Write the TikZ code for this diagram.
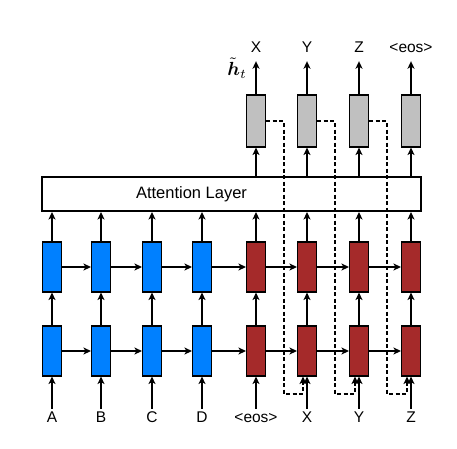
\documentclass[tikz,border=0pt]{standalone}
\usepackage{fontspec}
\setmainfont{Liberation Sans}
\usepackage{bm}
\usepackage{graphicx}
\usetikzlibrary{arrows.meta,calc}
\definecolor{encblue}{RGB}{0,128,255}
\definecolor{decred}{RGB}{165,42,42}
\definecolor{outgray}{RGB}{192,192,192}
\begin{document}
\begin{tikzpicture}[x=1pt,y=-1pt,
  cell/.style={draw=black, line width=1.1pt, minimum width=19pt, minimum height=50pt, inner sep=0pt},
  enc/.style={cell, fill=encblue},
  dec/.style={cell, fill=decred},
  outc/.style={cell, fill=outgray, minimum height=52pt},
  lbl/.style={font=\fontsize{15.5}{17}\selectfont, inner sep=2.5pt, text height=11pt, text depth=0pt},
  tip/.style={-{Stealth[length=7.5pt,width=7pt,inset=2pt]}},
  conn/.style={tip, line width=2.1pt},
  inarr/.style={tip, line width=1.4pt},
  outarr/.style={tip, line width=1.6pt, shorten >=6pt},
  feed/.style={tip, line width=2.1pt, dash pattern=on 4pt off 2.5pt}
]
\useasboundingbox (0,0) rectangle (457,448);

% attention layer
\node[draw=black, line width=2pt, minimum width=379pt, minimum height=34pt, inner sep=0pt,
      label={[xshift=-40pt, font=\fontsize{16.5}{18}\selectfont]center:Attention Layer}] (att) at (231.5,194) {};

% cells
\foreach \i/\x in {1/52,2/101,3/152,4/202}{
  \node[enc] (b\i) at (\x,351) {};
  \node[enc] (t\i) at (\x,267) {};
}
\foreach \i/\x in {5/256,6/307,7/359,8/411}{
  \node[dec] (b\i) at (\x,351) {};
  \node[dec] (t\i) at (\x,267) {};
}
\foreach \i/\x in {5/256,6/307,7/359,8/411}{
  \node[outc] (o\i) at (\x,121) {};
}

% input labels
\foreach \i/\x/\t in {1/52/A,2/101/B,3/152/C,4/202/D,5/256/{<eos>},6/307/X,7/359/Y,8/411/Z}{
  \node[lbl] (in\i) at (\x,417) {\t};
  \draw[inarr] (in\i.north) -- (b\i.south);
  \draw[conn] (b\i.north) -- (t\i.south);
  \draw[conn] (t\i.north) -- (t\i |- att.south);
}
% output labels
\foreach \i/\x/\t in {5/256/X,6/307/Y,7/359/Z,8/411/{<eos>}}{
  \node[lbl] (y\i) at (\x,47) {\t};
  \draw[conn] (o\i |- att.north) -- (o\i.south);
  \draw[outarr] (o\i.north) -- (y\i.south);
}
\node[inner sep=0pt] (ht) at (237,68) {\scalebox{1.9}{$\tilde{\bm{h}}_t$}};

% recurrent connections
\foreach \a/\b in {1/2,2/3,3/4,4/5,5/6,6/7,7/8}{
  \draw[conn] (b\a.east) -- (b\b.west);
  \draw[conn] (t\a.east) -- (t\b.west);
}

% input feeding
\foreach \a/\b in {5/6,6/7,7/8}{
  \draw[feed] (o\a.east) -- ++(17.5,0) |- ($(b\b.south)+(-4,17)$) -- ($(b\b.south)+(-4,0)$);
}
\end{tikzpicture}
\end{document}
